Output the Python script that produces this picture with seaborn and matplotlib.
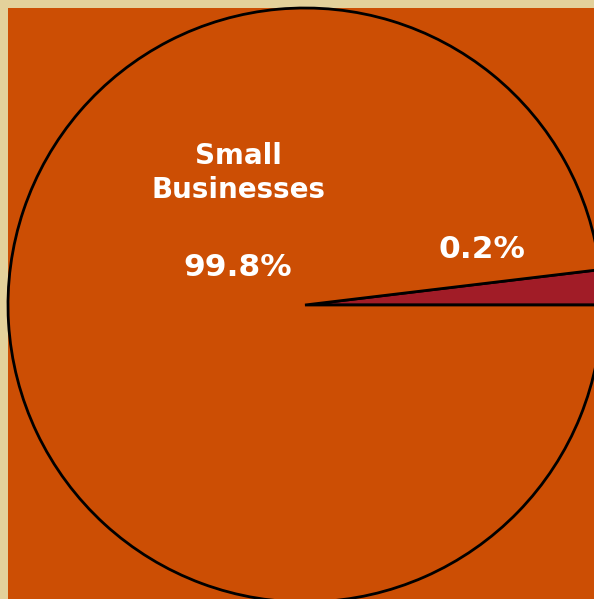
import matplotlib
matplotlib.use("Agg")
import matplotlib.pyplot as plt
from matplotlib.patches import Rectangle
import seaborn as sns

sns.set_theme(style="white")
plt.rcParams['font.family'] = ['DejaVu Sans']

# Data
categories = ["Small Businesses", "Other"]
pct_labels = ["99.8%", "0.2%"]
slice_sizes = [98.1, 1.9]   # drawn sizes of the slices as they appear
colors = ["#CC4E04", "#A11C27"]

W, H = 594, 599
fig = plt.figure(figsize=(W / 100, H / 100), dpi=100)
fig.patch.set_facecolor("#E3D19B")
ax = fig.add_axes([0, 0, 1, 1])
ax.set_facecolor("none")

ax.add_patch(Rectangle((8, 0), W - 8, H - 8, facecolor="#CC4E04", edgecolor="none", zorder=0))

cx, cy, r = 305, H - 305, 297
ax.pie(slice_sizes[::-1], colors=colors[::-1], startangle=0, counterclock=True,
       center=(cx, cy), radius=r,
       wedgeprops=dict(edgecolor="black", linewidth=2))

ax.text(238, H - 173, "Small\nBusinesses", ha="center", va="center", color="white",
        fontsize=20, fontweight="bold", linespacing=1.31)
ax.text(238, H - 268, pct_labels[0], ha="center", va="center", color="white",
        fontsize=22.5, fontweight="bold")
ax.text(482, H - 250, pct_labels[1], ha="center", va="center", color="white",
        fontsize=22.5, fontweight="bold")

ax.set_xlim(0, W)
ax.set_ylim(0, H)
ax.set_aspect("auto")
ax.set_axis_off()
fig.savefig("out.png", dpi=100, facecolor=fig.get_facecolor())
